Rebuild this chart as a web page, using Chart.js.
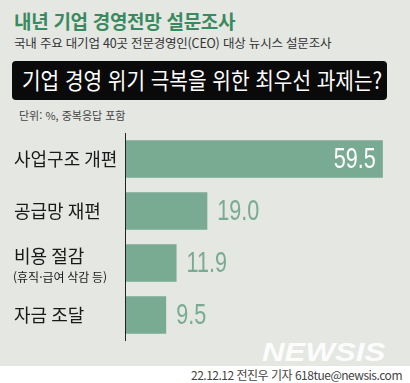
<!DOCTYPE html>
<html lang="ko">
<head>
<meta charset="utf-8">
<script src="https://cdn.jsdelivr.net/npm/chart.js@4/dist/chart.umd.min.js"></script>
<style>
	body { margin: 0; background: #ffffff; font-family: "Noto Sans CJK KR", sans-serif; }
	#page { position: relative; width: 410px; height: 383px; overflow: hidden; }
	#grayPanel { position: absolute; left: 0; top: 0; width: 410px; height: 366px; background: #e5e7e3; }
	.txt { position: absolute; white-space: nowrap; line-height: 1; }
	#title { left: 14px; top: 11px; font-size: 19px; font-weight: 700; color: #3a8a60; letter-spacing: -0.3px; }
	#subtitle { left: 14px; top: 37px; font-size: 12.5px; color: #333; letter-spacing: -0.2px; }
	#questionBox { position: absolute; left: 12px; top: 61px; width: 375px; height: 39px; background: #0a0a0a; border-radius: 4px; }
	#question { left: 10px; top: 7px; font-size: 23px; color: #ffffff; transform-origin: 0 0; transform: scaleX(0.88); }
	#unit { left: 19px; top: 110px; font-size: 11px; color: #444; }
	#watermark { left: 262px; top: 340px; font-family: "Liberation Sans", sans-serif; font-size: 25px; font-weight: 700; font-style: italic; color: rgba(255,255,255,0.92); transform-origin: 0 0; transform: scaleX(1.25); }
	#credit { right: 8px; top: 369px; font-size: 12px; color: #444; letter-spacing: -0.5px; }
	#chartBox { position: absolute; left: 0; top: 0; width: 410px; height: 383px; }
</style>
</head>
<body>
<div id="page">
	<div id="grayPanel"></div>
	<div class="txt" id="title">내년 기업 경영전망 설문조사</div>
	<div class="txt" id="subtitle">국내 주요 대기업 40곳 전문경영인(CEO) 대상 뉴시스 설문조사</div>
	<div id="questionBox"><div class="txt" id="question">기업 경영 위기 극복을 위한 최우선 과제는?</div></div>
	<div class="txt" id="unit">단위: %, 중복응답 포함</div>
	<div class="txt" id="watermark">NEWSIS</div>
	<div class="txt" id="credit">22.12.12 전진우 기자 618tue@newsis.com</div>
	<div id="chartBox"><canvas id="mainChart"></canvas></div>
</div>
<script>
// data
const categories = ["사업구조 개편", "공급망 재편", "비용 절감", "자금 조달"];
const subLabels = ["", "", "(휴직·급여 삭감 등)", ""];
const values = [59.5, 19.0, 11.9, 9.5];
const valueLabels = ["59.5", "19.0", "11.9", "9.5"];
const xMax = 60;

const barColor = "#79aa92";
const numSqueeze = 0.72;

//draws axis line, category names and value numbers
const labelPlugin = {
	id: "labelPlugin",
	afterDatasetsDraw(chart) {
		let ctx = chart.ctx;
		let area = chart.chartArea;
		let yScale = chart.scales.y;
		let meta = chart.getDatasetMeta(0);

		ctx.save();
		// vertical axis line
		ctx.strokeStyle = "#222";
		ctx.lineWidth = 1;
		ctx.beginPath();
		ctx.moveTo(area.left + 0.5, area.top);
		ctx.lineTo(area.left + 0.5, area.bottom);
		ctx.stroke();

		for (let i = 0; i < categories.length; i++) {
			let yMid = yScale.getPixelForValue(i);
			ctx.fillStyle = "#1a1a1a";
			ctx.textAlign = "left";
			ctx.textBaseline = "middle";
			if (subLabels[i] != "") {
				ctx.font = '18px "Noto Sans CJK KR"';
				ctx.fillText(categories[i], 14, yMid - 7);
				ctx.font = '12px "Noto Sans CJK KR"';
				ctx.fillText(subLabels[i], 13, yMid + 14);
			} else {
				ctx.font = '18px "Noto Sans CJK KR"';
				ctx.fillText(categories[i], 14, yMid);
			}

			// value numbers, squeezed to look condensed
			let bar = meta.data[i];
			ctx.save();
			ctx.font = '30px "Liberation Sans"';
			ctx.textBaseline = "middle";
			let startX;
			if (i == 0) {
				ctx.fillStyle = "#ffffff";
				ctx.textAlign = "right";
				startX = bar.x - 7;
			} else {
				ctx.fillStyle = barColor;
				ctx.textAlign = "left";
				startX = bar.x + 10;
			}
			ctx.translate(startX, yMid + 1);
			ctx.scale(numSqueeze, 1);
			ctx.fillText(valueLabels[i], 0, 0);
			ctx.restore();
		}
		ctx.restore();
	}
};

let ctxMain = document.getElementById("mainChart").getContext("2d");
let mainChart = new Chart(ctxMain, {
	type: "bar",
	data: {
		labels: categories,
		datasets: [{
			data: values,
			backgroundColor: barColor,
			borderWidth: 0,
			barPercentage: 0.72,
			categoryPercentage: 1.0
		}]
	},
	options: {
		indexAxis: "y",
		responsive: true,
		maintainAspectRatio: false,
		animation: false,
		layout: {
			padding: { left: 125, right: 25, top: 133, bottom: 42 }
		},
		scales: {
			x: { display: false, min: 0, max: xMax },
			y: { display: false }
		},
		plugins: {
			legend: { display: false },
			tooltip: { enabled: false }
		}
	},
	plugins: [labelPlugin]
});
</script>
</body>
</html>
